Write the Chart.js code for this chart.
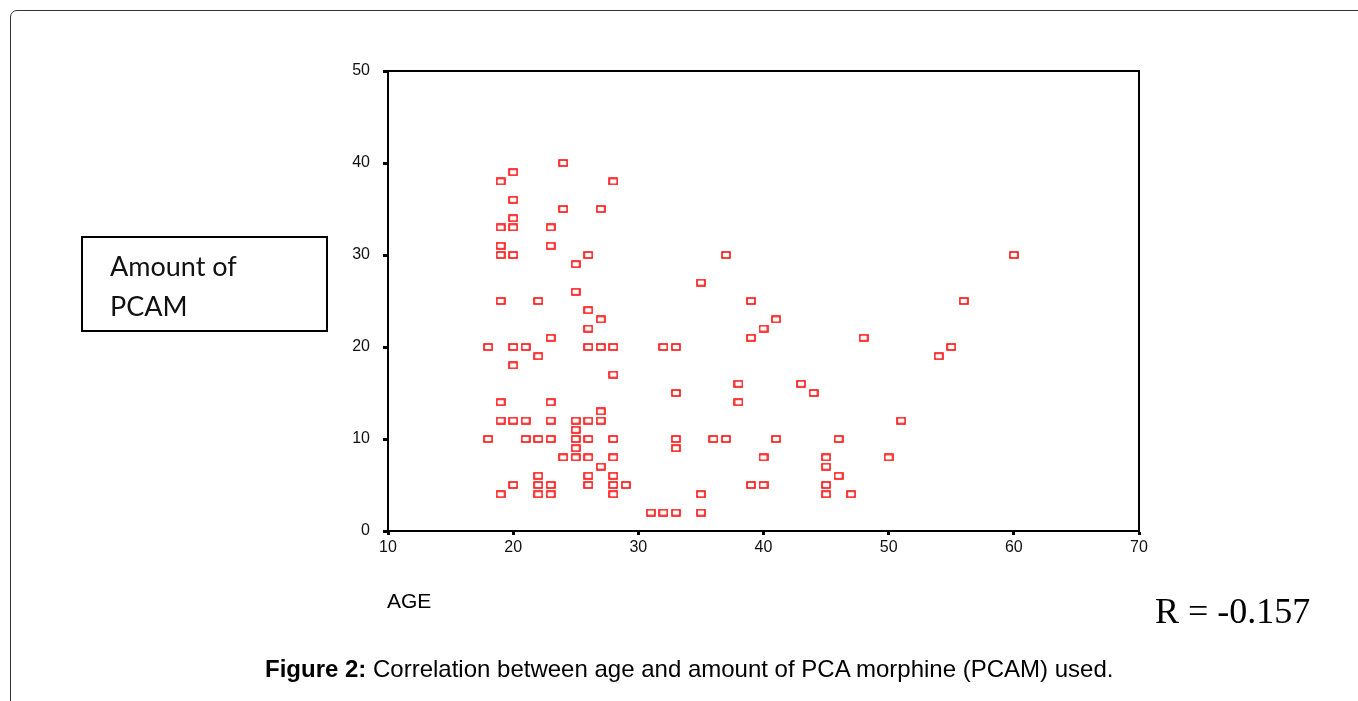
<!DOCTYPE html>
<html>
<head>
<meta charset="utf-8">
<script src="https://cdn.jsdelivr.net/npm/chart.js@4"></script>
<style>
  html, body { margin:0; padding:0; background:#fff; width:1358px; height:701px; overflow:hidden; }
  #frame { position:absolute; left:10px; top:10px; width:1400px; height:800px; border:1px solid #333; border-radius:7px; box-sizing:border-box; }
  #wrap { position:absolute; left:0; top:0; width:1358px; height:701px; }
  .txt { position:absolute; white-space:nowrap; color:#000; }
  #ybox { position:absolute; left:81px; top:236px; width:247px; height:96px; border:2px solid #000; box-sizing:border-box; }
  #ytitle { left:110px; top:246px; font-family:Lato, "Noto Sans", sans-serif; font-size:27px; line-height:40px; color:#111; }
  #xtitle { left:387px; top:590px; font-family:"Liberation Sans", Arial, sans-serif; font-size:21px; line-height:21px; }
  #rval { left:1155px; top:593px; font-family:"Liberation Serif", "Times New Roman", serif; font-size:36px; line-height:36px; }
  #caption { left:265px; top:657px; font-family:"Liberation Sans", Arial, sans-serif; font-size:24px; line-height:24px; }
</style>
</head>
<body>
<div id="frame"></div>
<div id="wrap"><canvas id="c" width="1358" height="701"></canvas></div>
<div id="ybox"></div>
<div class="txt" id="ytitle">Amount of<br>PCAM</div>
<div class="txt" id="xtitle">AGE</div>
<div class="txt" id="rval">R = -0.157</div>
<div class="txt" id="caption"><b>Figure 2:</b> Correlation between age and amount of PCA morphine (PCAM) used.</div>
<script>
// Data
const ages = [
  24,20,19,28,20,24,27,20,19,20,23,19,23,19,20,26,25,25,19,22,26,27,26,23,
  18,20,21,26,27,28,22,20,28,19,23,27,
  19,20,21,23,25,26,27,25,
  18,21,22,23,25,26,28,25,
  24,25,26,28,27,22,26,28,
  20,22,23,26,28,29,19,22,23,28,
  37,35,39,41,40,39,48,32,33,38,43,44,33,38,51,
  33,36,37,41,46,33,40,45,50,45,46,39,40,45,35,45,47,31,32,33,35,
  60,56,55,54,
  25,26,25,22,19,37,46,45
];
const pcam = [
  40,39,38,38,36,35,35,34,33,33,33,31,31,30,30,30,29,26,25,25,24,23,22,21,
  20,20,20,20,20,20,19,18,17,14,14,13,
  12,12,12,12,12,12,12,11,
  10,10,10,10,10,10,10,9,
  8,8,8,8,7,6,6,6,
  5,5,5,5,5,5,4,4,4,4,
  30,27,25,23,22,21,21,20,20,16,16,15,15,14,12,
  10,10,10,10,10,9,8,8,8,7,6,5,5,5,4,4,4,2,2,2,2,
  30,25,20,19,
  12,10,8,5,4,10,10,5
];
const xTicks = [10,20,30,40,50,60,70];
const yTicks = [0,10,20,30,40,50];

const points = ages.map((a,i)=>({x:a, y:pcam[i]}));

// marker: small open red rectangle
const mk = document.createElement('canvas');
mk.width = 10; mk.height = 8;
const mc = mk.getContext('2d');
mc.fillStyle = '#fff'; mc.fillRect(0,0,10,8);
mc.strokeStyle = '#ff0000'; mc.lineWidth = 1.5;
mc.strokeRect(1,1,8,6);

const boxPlugin = {
  id:'boxPlugin',
  afterDraw(chart){
    const {ctx, chartArea:a} = chart;
    ctx.save();
    ctx.strokeStyle = '#000'; ctx.lineWidth = 2;
    ctx.beginPath();
    ctx.moveTo(a.left, a.top); ctx.lineTo(a.right, a.top); ctx.lineTo(a.right, a.bottom);
    ctx.stroke();
    ctx.restore();
  }
};

const tickFont = {family:'"Liberation Sans", Arial, sans-serif', size:16};

new Chart(document.getElementById('c'), {
  type:'scatter',
  data:{ datasets:[{ data:points, pointStyle:mk, pointRadius:4, pointHoverRadius:4 }] },
  options:{
    responsive:false,
    animation:false,
    events:[],
    layout:{ padding:{ left:328, right:219, top:71, bottom:140 } },
    plugins:{ legend:{display:false}, tooltip:{enabled:false} },
    scales:{
      x:{
        type:'linear', min:10, max:70,
        afterBuildTicks: s => { s.ticks = xTicks.map(v=>({value:v})); },
        afterFit: s => { s.height = 30; },
        grid:{ display:true, drawOnChartArea:false, drawTicks:true, tickLength:4, tickWidth:3, tickColor:'#000' },
        border:{ display:true, color:'#000', width:2 },
        ticks:{ font:tickFont, color:'#111', padding:3, maxRotation:0 }
      },
      y:{
        type:'linear', min:0, max:50,
        afterBuildTicks: s => { s.ticks = yTicks.map(v=>({value:v})); },
        afterFit: s => { s.width = 60; },
        grid:{ display:true, drawOnChartArea:false, drawTicks:true, tickLength:5, tickWidth:3, tickColor:'#000' },
        border:{ display:true, color:'#000', width:2 },
        ticks:{ font:tickFont, color:'#111', padding:13 }
      }
    }
  },
  plugins:[boxPlugin]
});
</script>
</body>
</html>
